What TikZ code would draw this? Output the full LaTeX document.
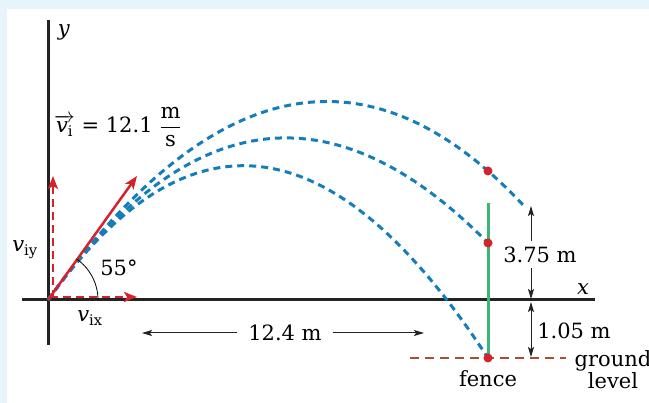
\documentclass[tikz,border=0pt]{standalone}
\usepackage{fontspec}
\setmainfont{DejaVu Serif}
\usetikzlibrary{arrows.meta}
\definecolor{bgblue}{RGB}{232,244,251}
\definecolor{trajblue}{RGB}{20,126,186}
\definecolor{vred}{RGB}{212,35,43}
\definecolor{fencegreen}{RGB}{60,180,120}
\definecolor{groundbrown}{RGB}{165,80,55}
\definecolor{axisgray}{RGB}{35,35,35}
\tikzset{
  axisline/.style={draw=axisgray, line width=3pt},
  traj/.style={draw=trajblue, line width=3pt, dash pattern=on 7pt off 5pt},
  vecarrow/.style={draw=vred, line width=2.5pt, -{Stealth[length=13pt,width=10pt,inset=3pt]}},
  compvec/.style={vecarrow, dash pattern=on 8pt off 5pt},
  dimline/.style={draw=axisgray, line width=1pt, -{Stealth[length=10pt,width=6pt,inset=2pt]}},
  dimboth/.style={draw=axisgray, line width=1pt, {Stealth[length=10pt,width=6pt,inset=2pt]}-{Stealth[length=10pt,width=6pt,inset=2pt]}},
  reddot/.style={fill=vred},
  lbl/.style={inner sep=1pt}
}
\begin{document}
\begin{tikzpicture}[x=1pt,y=-1pt,font=\fontsize{21}{25}\selectfont]
\useasboundingbox (0,0) rectangle (649,403);
\fill[bgblue] (0,0) rectangle (649,403);
\fill[white] (7,9) rectangle (649,403);

% coordinates
\coordinate (O) at (48,300);
\coordinate (xL) at (22,300);
\coordinate (xR) at (595,300);
\coordinate (yT) at (48,20);
\coordinate (yB) at (48,345);

% axes
\draw[axisline] (xL) -- (xR);
\draw[axisline] (yB) -- (yT);
\node[lbl] (ylab) at (64,32) {\textit{y}};
\node[lbl] (xlab) at (583,289) {\textit{x}};

% trajectories (s = horizontal distance / 100)
\draw[traj] plot[domain=0:4.78, samples=90, variable=\s] ({48+100*\s}, {300-(140*\s-23.848*\s*\s-0.2971*\s*\s*\s)});
\draw[traj] plot[domain=0:4.40, samples=90, variable=\s] ({48+100*\s}, {300-(140*\s-31.779*\s*\s+0.6602*\s*\s*\s)});
\draw[traj] plot[domain=0:4.40, samples=90, variable=\s] ({48+100*\s}, {300-(140*\s-37.806*\s*\s+0.68*\s*\s*\s)});

% fence and ground
\coordinate (fT) at (488,203);
\coordinate (fB) at (488,358);
\draw[draw=fencegreen, line width=3pt] (fB) -- (fT);
\coordinate (gL) at (410,358);
\coordinate (gR) at (566,358);
\draw[draw=groundbrown, line width=2.5pt, dash pattern=on 9pt off 6pt] (gL) -- (gR);
\fill[reddot] (488,171) circle[radius=4.5];
\fill[reddot] (488,243) circle[radius=4.5];
\fill[reddot] (488,358) circle[radius=4.5];
\node[lbl] (fence) at (488,379) {fence};
\node[lbl, align=center] (ground) at (613,370) {ground\\[-3pt]level};

% velocity vectors
\coordinate (vtip) at (137,176);
\coordinate (vxtip) at (137,297);
\coordinate (vytip) at (53,176);
\coordinate (vx0) at (50,297);
\coordinate (vy0) at (53,298);
\draw[compvec] (vx0) -- (vxtip);
\draw[compvec] (vy0) -- (vytip);
\draw[vecarrow] (O) -- (vtip);
\draw[draw=black, line width=0.8pt] (98,300) arc[start angle=0, end angle=-55, radius=50];
\node[lbl] (ang) at (119,268) {55°};
\node[lbl] (viy) at (25,250) {\textit{v}\textsubscript{iy}};
\node[lbl] (vix) at (90,318) {\textit{v}\textsubscript{ix}};
\node[lbl, anchor=west] (vi) at (53,127) {$\overrightarrow{\hbox{\textit{v}\textsubscript{i}}}$ = 12.1 $\displaystyle\frac{\hbox{m}}{\hbox{s}}$};

% dimensions
\coordinate (t375) at (531,206);
\coordinate (a1) at (531,241);
\coordinate (a2) at (531,268);
\coordinate (xa) at (531,299);
\coordinate (xb) at (531,302);
\coordinate (gb) at (531,357);
\node[lbl] (d375) at (540,255) {3.75 m};
\draw[dimline] (a1) -- (t375);
\draw[dimline] (a2) -- (xa);
\draw[dimboth] (xb) -- (gb);
\node[lbl] (d105) at (574,331) {1.05 m};
\coordinate (L124) at (142,333);
\coordinate (R124) at (424,333);
\node[lbl] (d124) at (285,333) {12.4 m};
\draw[dimline] ([xshift=-10pt]d124.west) -- (L124);
\draw[dimline] ([xshift=10pt]d124.east) -- (R124);
\end{tikzpicture}
\end{document}
